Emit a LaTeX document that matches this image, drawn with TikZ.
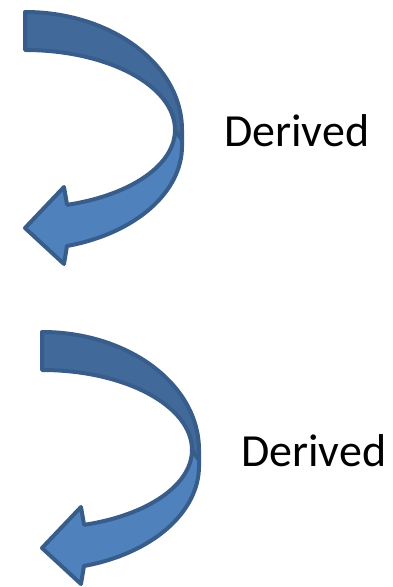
\documentclass[tikz,border=0pt]{standalone}
\usepackage{fontspec}
\setmainfont{Carlito}
\usepackage{xcolor}
\definecolor{pfeilrand}{HTML}{385D8A}
\definecolor{pfeilhell}{HTML}{4F81BD}
\definecolor{pfeildunkel}{HTML}{416A9A}

\begin{document}
\begin{tikzpicture}[x=1pt, y=1pt,
        pfeil/.style={draw=pfeilrand, line width=4pt, line join=round}]
        \useasboundingbox (0,0) rectangle (393,587);
        % Pfeile mit Beschriftung
        \foreach \dx/\dy/\n in {0/0/1, 17/-320/2}
        {
            \begin{scope}[shift={(\dx,\dy)}]
                % Rueckseite
                \draw[pfeil, fill=pfeildunkel] (25,575) arc[start angle=90, end angle=0, x radius=157, y radius=118]
                    -- (182,447) -- (175,457) arc[start angle=0, end angle=90, x radius=150, y radius=80] -- cycle;
                % Vorderseite mit Spitze
                \draw[pfeil, fill=pfeilhell] (175,457) arc[start angle=0, end angle=-73.7, x radius=150, y radius=78]
                    -- (64,400) -- (25,359) -- (64,323) -- (67,341)
                    arc[start angle=-74.5, end angle=0, x radius=157, y radius=104] -- (182,447) -- cycle;
                \node[anchor=base west, inner sep=0pt, font=\fontsize{46}{50}\selectfont] (derived\n) at (224,440) {Derived};
            \end{scope}
        }
\end{tikzpicture}
\end{document}
